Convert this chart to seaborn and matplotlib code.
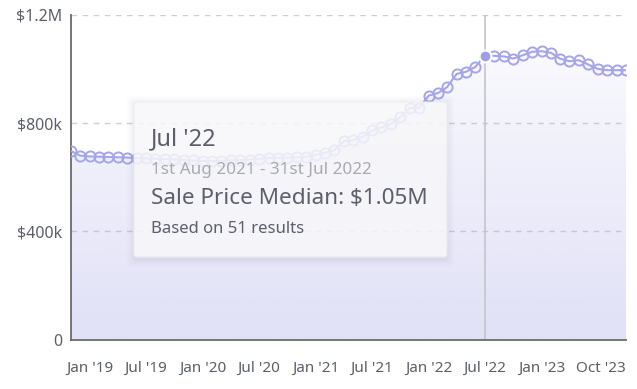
import matplotlib
matplotlib.use("Agg")
import matplotlib.pyplot as plt
import matplotlib.dates as mdates
from matplotlib.patches import FancyBboxPatch
import numpy as np
import pandas as pd
import seaborn as sns

# ---- data ----
months = pd.date_range("2018-11-01", periods=60, freq="MS")
median_price = [
    697000, 680000, 677000, 676000, 675000, 674000, 673000, 671000, 670000, 668000,
    667000, 666000, 664000, 662000, 660000, 660000, 661000, 662000, 663000, 665000,
    668000, 672000, 672000, 673000, 674000, 676000, 683000, 691000, 700000, 734000,
    737000, 750000, 773000, 784000, 798000, 823000, 857000, 857000, 902000, 912000,
    933000, 982000, 990000, 1008000, 1050000, 1049000, 1047000, 1039000, 1051000, 1064000,
    1066000, 1060000, 1039000, 1029000, 1033000, 1017000, 1001000, 996000, 996000, 996000,
]
tick_dates = ["2019-01-01", "2019-07-01", "2020-01-01", "2020-07-01", "2021-01-01",
              "2021-07-01", "2022-01-01", "2022-07-01", "2023-01-01", "2023-10-01"]
tick_labels = ["Jan '19", "Jul '19", "Jan '20", "Jul '20", "Jan '21",
               "Jul '21", "Jan '22", "Jul '22", "Jan '23", "Oct '23"]
y_ticks = [0, 400000, 800000, 1200000]
y_labels = ["0", "$400k", "$800k", "$1.2M"]
highlight_month = "2022-07-01"
tooltip_title = "Jul '22"
tooltip_range = "1st Aug 2021 - 31st Jul 2022"
tooltip_value = "Sale Price Median: $1.05M"
tooltip_count = "Based on 51 results"

df = pd.DataFrame({"month": months, "price": median_price})

sns.set_style("white")
plt.rcParams["font.family"] = ["Noto Sans", "DejaVu Sans"]

W, H = 637, 389
fig = plt.figure(figsize=(W / 100, H / 100), dpi=100)
ax = fig.add_axes([71 / W, 1 - 339.5 / H, (626 - 71) / W, (339.5 - 15) / H])

line_c = "#a5a5e9"
axis_c = "#6b6b6b"
text_c = "#5c5f6b"

# gradient fill under the curve
xnum = mdates.date2num(df["month"])
poly = ax.fill_between(df["month"], df["price"], 0, color="none", lw=0, zorder=1)
grad = np.linspace(0.34, 0.06, 256).reshape(-1, 1)
rgba = np.zeros((256, 1, 4))
rgba[..., 0] = 165 / 255
rgba[..., 1] = 165 / 255
rgba[..., 2] = 232 / 255
rgba[..., 3] = grad
im = ax.imshow(rgba, aspect="auto", origin="lower",
               extent=[xnum[0], xnum[-1], 0, 1100000], zorder=1)
im.set_clip_path(poly.get_paths()[0], transform=ax.transData)

# grid
for yv in y_ticks[1:]:
    ax.axhline(yv, color="#cfcfcf", lw=1, ls=(0, (4, 4)), zorder=0.5)

sns.lineplot(data=df, x="month", y="price", ax=ax, color=line_c, lw=1.5,
             marker="o", markersize=7.3, markerfacecolor="none",
             markeredgecolor=line_c, markeredgewidth=1.4, zorder=3)

hl = df[df["month"] == pd.Timestamp(highlight_month)]
ax.axvline(pd.Timestamp(highlight_month), color="#c4c4c8", lw=1.2, zorder=2)
ax.plot(hl["month"], hl["price"], "o", ms=8.5, color="#9f9fe6",
        mec="white", mew=1.5, zorder=4)

ax.set_xlim(months[0], months[-1])
ax.set_ylim(0, 1200000)
ax.set_yticks(y_ticks)
ax.set_yticklabels(y_labels)
ax.set_xticks(pd.to_datetime(tick_dates))
ax.set_xticklabels(tick_labels)
ax.set_xlabel("")
ax.set_ylabel("")
for s in ["top", "right"]:
    ax.spines[s].set_visible(False)
for s in ["left", "bottom"]:
    ax.spines[s].set_color(axis_c)
    ax.spines[s].set_linewidth(1.3)
ax.tick_params(axis="y", length=4.5, width=1.2, color=axis_c, labelcolor=text_c,
               labelsize=11.5, pad=2)
ax.tick_params(axis="x", length=6.5, width=1.2, color=axis_c, labelcolor=text_c,
               labelsize=11, pad=9)
labs = ax.get_xticklabels()
labs[-1].set_horizontalalignment("right")
ax.set_facecolor("none")

# tooltip box (pixel coordinates)
def px(x, y):
    return x / W, 1 - y / H

bx0, by0, bx1, by1 = 134, 102, 447, 257
for i, a in enumerate([0.025, 0.02, 0.015, 0.01]):
    g = 2 + i * 2
    sh = FancyBboxPatch(px(bx0 - g + 1, by1 + g + 2), (bx1 - bx0 + 2 * g - 2) / W,
                        (by1 - by0 + 2 * g) / H,
                        boxstyle="round,pad=0,rounding_size=0.01",
                        transform=fig.transFigure, fc="#30304a", ec="none",
                        alpha=a, zorder=9)
    fig.add_artist(sh)
box = FancyBboxPatch(px(bx0, by1), (bx1 - bx0) / W, (by1 - by0) / H,
                     boxstyle="round,pad=0,rounding_size=0.006",
                     transform=fig.transFigure, fc="#fafafc", ec="#ececf0",
                     lw=0.8, alpha=0.84, zorder=10)
fig.add_artist(box)

fig.text(*px(151, 139), tooltip_title, fontsize=17, color=text_c, va="center",
         ha="left", zorder=11)
fig.text(*px(151, 170), tooltip_range, fontsize=12.3, color="#a9a9b2",
         va="center", ha="left", zorder=11)
fig.text(*px(151, 199), tooltip_value, fontsize=16.2, color=text_c,
         va="center", ha="left", zorder=11)
fig.text(*px(151, 229), tooltip_count, fontsize=12, color=text_c,
         va="center", ha="left", zorder=11)

fig.savefig("out.png", dpi=100)
